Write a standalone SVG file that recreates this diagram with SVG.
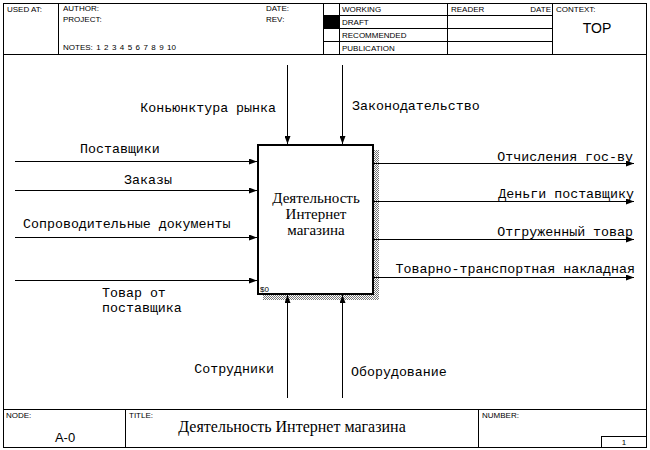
<svg xmlns="http://www.w3.org/2000/svg" width="650" height="450" viewBox="0 0 650 450">
<style>
.fr{fill:none;stroke:#000;stroke-width:1}
.hd{font-family:"Liberation Sans",Arial,sans-serif;font-size:8px;fill:#000}
.lb{font-family:"Liberation Mono","Courier New",monospace;font-size:13.3px;fill:#000}
.bx{font-family:"Liberation Serif","Times New Roman",serif;font-size:15px;fill:#000}
.ar{fill:none;stroke:#000;stroke-width:1}
</style>
<defs>
<marker id="ah" viewBox="0 0 8 6" refX="8" refY="3" markerWidth="8" markerHeight="6" markerUnits="userSpaceOnUse" orient="auto">
<path d="M0,0 L8,3 L0,6 Z" fill="#000"/>
</marker>
<pattern id="hatch" width="2" height="2" patternUnits="userSpaceOnUse">
<rect width="2" height="2" fill="#fff"/>
<rect width="1" height="1" fill="#777"/>
<rect x="1" y="1" width="1" height="1" fill="#777"/>
</pattern>
</defs>
<rect width="650" height="450" fill="#fff"/>
<g id="frame">
<rect class="fr" x="3.5" y="3.5" width="643" height="444"/>
<line class="fr" x1="3" y1="54.5" x2="646" y2="54.5"/>
<line class="fr" x1="58.5" y1="3" x2="58.5" y2="54"/>
<line class="fr" x1="323.5" y1="3" x2="323.5" y2="54"/>
<line class="fr" x1="339.5" y1="3" x2="339.5" y2="54"/>
<line class="fr" x1="447.5" y1="3" x2="447.5" y2="54"/>
<line class="fr" x1="552.5" y1="3" x2="552.5" y2="54"/>
<line class="fr" x1="323" y1="15.5" x2="552" y2="15.5"/>
<line class="fr" x1="323" y1="28.5" x2="552" y2="28.5"/>
<line class="fr" x1="323" y1="41.5" x2="552" y2="41.5"/>
<rect x="324" y="16" width="15" height="12" fill="#000"/>
<text class="hd" x="7" y="12">USED AT:</text>
<text class="hd" x="63" y="11">AUTHOR:</text>
<text class="hd" x="63" y="22">PROJECT:</text>
<text class="hd" x="63" y="50" word-spacing="1.2">NOTES: 1 2 3 4 5 6 7 8 9 10</text>
<text class="hd" x="266" y="11">DATE:</text>
<text class="hd" x="266" y="22">REV:</text>
<text class="hd" x="342" y="12">WORKING</text>
<text class="hd" x="342" y="25">DRAFT</text>
<text class="hd" x="342" y="38">RECOMMENDED</text>
<text class="hd" x="342" y="51">PUBLICATION</text>
<text class="hd" x="451" y="12">READER</text>
<text class="hd" x="551" y="12" text-anchor="end">DATE</text>
<text class="hd" x="556" y="12">CONTEXT:</text>
<text x="597" y="33" text-anchor="middle" font-family="Liberation Sans,Arial,sans-serif" font-size="14">TOP</text>
<line class="fr" x1="3" y1="409.5" x2="646" y2="409.5"/>
<line class="fr" x1="125.5" y1="409" x2="125.5" y2="447"/>
<line class="fr" x1="478.5" y1="409" x2="478.5" y2="447"/>
<rect class="fr" x="601.5" y="436.5" width="45" height="11"/>
<text class="hd" x="6" y="418">NODE:</text>
<text class="hd" x="129" y="418">TITLE:</text>
<text class="hd" x="482" y="418">NUMBER:</text>
<text x="65" y="442" text-anchor="middle" font-family="Liberation Sans,Arial,sans-serif" font-size="13">A-0</text>
<text x="292" y="432" text-anchor="middle" font-family="Liberation Serif,Times New Roman,serif" font-size="16">Деятельность Интернет магазина</text>
<text class="hd" x="624" y="445" text-anchor="middle">1</text>
</g>
<g id="A0">
<rect x="373" y="150" width="6" height="150" fill="url(#hatch)"/>
<rect x="263" y="294" width="116" height="6" fill="url(#hatch)"/>
<rect x="258" y="145" width="115" height="149" fill="#fff" stroke="#000" stroke-width="2"/>
<text class="bx" x="316" y="203" text-anchor="middle">Деятельность</text>
<text class="bx" x="316" y="219" text-anchor="middle">Интернет</text>
<text class="bx" x="316" y="235" text-anchor="middle">магазина</text>
<text x="260" y="292" font-family="Liberation Sans,Arial,sans-serif" font-size="8">$0</text>
</g>
<g id="connectors">
<line class="ar" x1="15" y1="161.5" x2="257" y2="161.5" marker-end="url(#ah)"/>
<line class="ar" x1="15" y1="190.5" x2="257" y2="190.5" marker-end="url(#ah)"/>
<line class="ar" x1="15" y1="237.5" x2="257" y2="237.5" marker-end="url(#ah)"/>
<line class="ar" x1="15" y1="280.5" x2="257" y2="280.5" marker-end="url(#ah)"/>
<line class="ar" x1="374" y1="163.5" x2="634" y2="163.5" marker-end="url(#ah)"/>
<line class="ar" x1="374" y1="201.5" x2="634" y2="201.5" marker-end="url(#ah)"/>
<line class="ar" x1="374" y1="239.5" x2="634" y2="239.5" marker-end="url(#ah)"/>
<line class="ar" x1="374" y1="277.5" x2="634" y2="277.5" marker-end="url(#ah)"/>
<line class="ar" x1="287.5" y1="65" x2="287.5" y2="144" marker-end="url(#ah)"/>
<line class="ar" x1="342.5" y1="65" x2="342.5" y2="144" marker-end="url(#ah)"/>
<line class="ar" x1="287.5" y1="398" x2="287.5" y2="295" marker-end="url(#ah)"/>
<line class="ar" x1="342.5" y1="398" x2="342.5" y2="295" marker-end="url(#ah)"/>
<text class="lb" x="80" y="153">Поставщики</text>
<text class="lb" x="124" y="184">Заказы</text>
<text class="lb" x="23" y="228">Сопроводительные документы</text>
<text class="lb" x="102" y="297">Товар от</text>
<text class="lb" x="102" y="312">поставщика</text>
<text class="lb" x="633" y="161" text-anchor="end">Отчисления гос-ву</text>
<text class="lb" x="634" y="198" text-anchor="end">Деньги поставщику</text>
<text class="lb" x="633" y="236" text-anchor="end">Отгруженный товар</text>
<text class="lb" x="635" y="273" text-anchor="end">Товарно-транспортная накладная</text>
<text class="lb" x="276" y="112" text-anchor="end">Коньюнктура рынка</text>
<text class="lb" x="352" y="110">Законодательство</text>
<text class="lb" x="274" y="373" text-anchor="end">Сотрудники</text>
<text class="lb" x="351" y="376">Оборудование</text>
</g>
</svg>
